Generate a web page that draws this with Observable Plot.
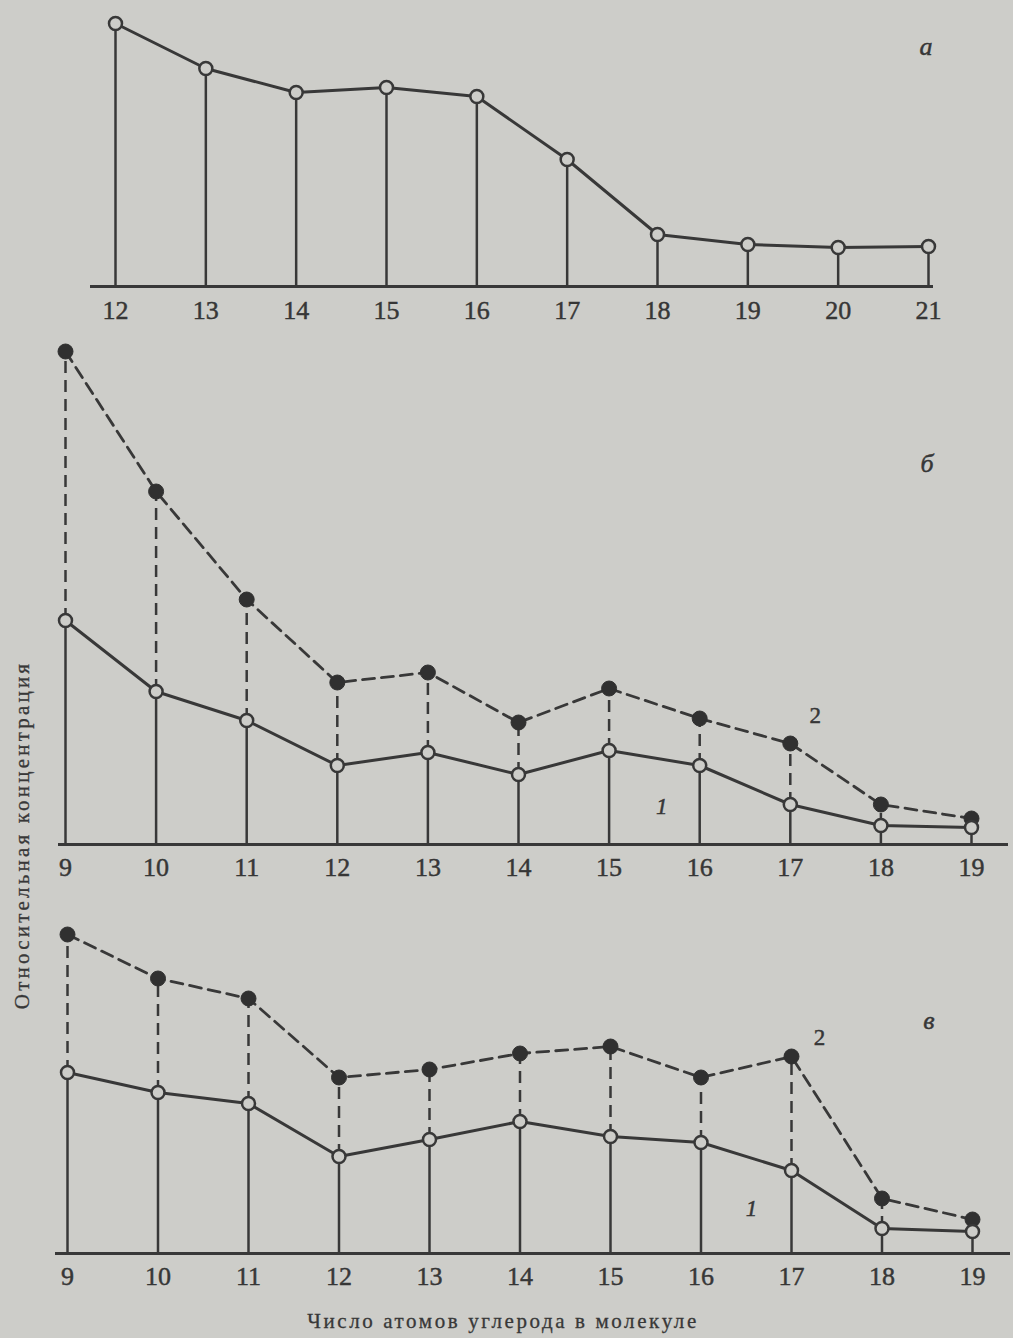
<!DOCTYPE html>
<html>
<head>
<meta charset="utf-8">
<script src="https://cdn.jsdelivr.net/npm/d3@7"></script>
<script src="https://cdn.jsdelivr.net/npm/@observablehq/plot@0.6"></script>
<style>
  html, body { margin: 0; padding: 0; background: #cdcdc9; }
  #page { position: relative; width: 1013px; height: 1338px; overflow: hidden; background: #cdcdc9; }
  .panel { position: absolute; left: 0; }
  .panel svg text { stroke: #333; stroke-width: 0.45px; }
  .ytitle { position: absolute; left: 22px; top: 835px; transform: translate(-50%, -50%) rotate(-90deg);
    white-space: nowrap; font-family: "Liberation Serif", serif; font-size: 21px; letter-spacing: 3.2px; color: #383838;
    -webkit-text-stroke: 0.3px #383838; }
  .xtitle { position: absolute; left: 503px; top: 1321px; transform: translate(-50%, -50%);
    white-space: nowrap; font-family: "Liberation Serif", serif; font-size: 21px; letter-spacing: 2.6px; color: #383838;
    -webkit-text-stroke: 0.3px #383838; }
</style>
</head>
<body>
<div id="page">
  <div class="panel" id="pa" style="top:0px"></div>
  <div class="panel" id="pb" style="top:330px"></div>
  <div class="panel" id="pc" style="top:890px"></div>
  <div class="ytitle">Относительная концентрация</div>
  <div class="xtitle">Число атомов углерода в молекуле</div>
</div>
<script>
// Panel а: carbon numbers and relative concentration
const catsA = [12, 13, 14, 15, 16, 17, 18, 19, 20, 21];
const valsA = [263, 218, 194, 199, 190, 127, 52, 42, 39, 40];

// Panel б
const catsB = [9, 10, 11, 12, 13, 14, 15, 16, 17, 18, 19];
const b1 = [224, 153, 124, 79, 92, 70, 94, 79, 40, 19, 17];
const b2 = [493, 353, 245, 162, 172, 122, 156, 126, 101, 40, 26];

// Panel в
const catsC = [9, 10, 11, 12, 13, 14, 15, 16, 17, 18, 19];
const c1 = [181, 161, 150, 97, 114, 132, 117, 111, 83, 25, 22];
const c2 = [319, 275, 255, 176, 184, 200, 207, 176, 197, 55, 34];

const panelLabels = ["а", "б", "в"];
const seriesLabels = ["1", "2"];

const bg = "#cdcdc9";
const ink = "#383838";
const dash = "12,7";

const dataA = catsA.map((c, i) => ({c, v: valsA[i]}));
const dataB = catsB.map((c, i) => ({c, s1: b1[i], s2: b2[i]}));
const dataC = catsC.map((c, i) => ({c, s1: c1[i], s2: c2[i]}));

const baseStyle = {background: bg, fontFamily: "Liberation Serif, serif", color: ink, overflow: "visible"};

const chartA = Plot.plot({
  width: 1013, height: 330,
  marginLeft: 115, marginRight: 85, marginTop: 23, marginBottom: 44,
  x: {domain: [12, 21], axis: null},
  y: {domain: [0, 263], axis: null},
  style: baseStyle,
  marks: [
    Plot.ruleX(dataA, {x: "c", y1: 0, y2: "v", stroke: ink, strokeWidth: 2.5}),
    Plot.ruleY([0], {stroke: ink, strokeWidth: 3, insetLeft: -25, insetRight: -5}),
    Plot.line(dataA, {x: "c", y: "v", stroke: ink, strokeWidth: 3}),
    Plot.dot(dataA, {x: "c", y: "v", r: 6.5, fill: bg, stroke: ink, strokeWidth: 2.5}),
    Plot.axisX({ticks: catsA, label: null, tickSize: 0, tickPadding: 14, fontSize: 26, tickFormat: d => String(d)}),
    Plot.text([panelLabels[0]], {frameAnchor: "top-right", dx: 4, dy: 31, lineAnchor: "bottom",
      fontSize: 26, fontStyle: "italic", fill: ink})
  ]
});

function twoSeries(data, cats, yMax, m, inset, lab, lab2, lab1) {
  return Plot.plot({
    width: 1013, height: m.h,
    marginLeft: m.l, marginRight: m.r, marginTop: m.t, marginBottom: m.b,
    x: {domain: [cats[0], cats[cats.length - 1]], axis: null},
    y: {domain: [0, yMax], axis: null},
    style: baseStyle,
    marks: [
      Plot.ruleX(data, {x: "c", y1: 0, y2: "s1", stroke: ink, strokeWidth: 2.5}),
      Plot.ruleX(data, {x: "c", y1: "s1", y2: "s2", stroke: ink, strokeWidth: 2.5, strokeDasharray: dash}),
      Plot.ruleY([0], {stroke: ink, strokeWidth: 3, insetLeft: inset[0], insetRight: inset[1]}),
      Plot.line(data, {x: "c", y: "s2", stroke: ink, strokeWidth: 2.8, strokeDasharray: dash}),
      Plot.line(data, {x: "c", y: "s1", stroke: ink, strokeWidth: 3}),
      Plot.dot(data, {x: "c", y: "s2", r: 7.5, fill: "#303030", stroke: "#303030", strokeWidth: 1}),
      Plot.dot(data, {x: "c", y: "s1", r: 6.5, fill: bg, stroke: ink, strokeWidth: 2.5}),
      Plot.axisX({ticks: cats, label: null, tickSize: 0, tickPadding: 13, fontSize: 26, tickFormat: d => String(d)}),
      Plot.text([lab], {frameAnchor: "top-right", dx: -38, dy: lab === "б" ? 120 : 94, lineAnchor: "bottom",
        fontSize: 26, fontStyle: "italic", fill: ink}),
      Plot.text(data.filter(d => d.c === 17), {x: "c", y: "s2", text: () => seriesLabels[1],
        dx: lab2[0], dy: lab2[1], fontSize: 23, fill: ink}),
      Plot.text(data.filter(d => d.c === lab1[2]), {x: "c", y: "s1", text: () => seriesLabels[0],
        dx: lab1[0], dy: lab1[1], fontSize: 23, fontStyle: "italic", fill: ink})
    ]
  });
}

const chartB = twoSeries(dataB, catsB, 493, {h: 560, l: 65, r: 42, t: 21, b: 46}, [-7, -37],
  panelLabels[1], [25, -28], [-38, 41, 16]);
const chartC = twoSeries(dataC, catsC, 319, {h: 410, l: 67, r: 41, t: 44, b: 47}, [-12, -38],
  panelLabels[2], [28, -19], [-40, 38, 17]);

document.getElementById("pa").appendChild(chartA);
document.getElementById("pb").appendChild(chartB);
document.getElementById("pc").appendChild(chartC);
</script>
</body>
</html>
